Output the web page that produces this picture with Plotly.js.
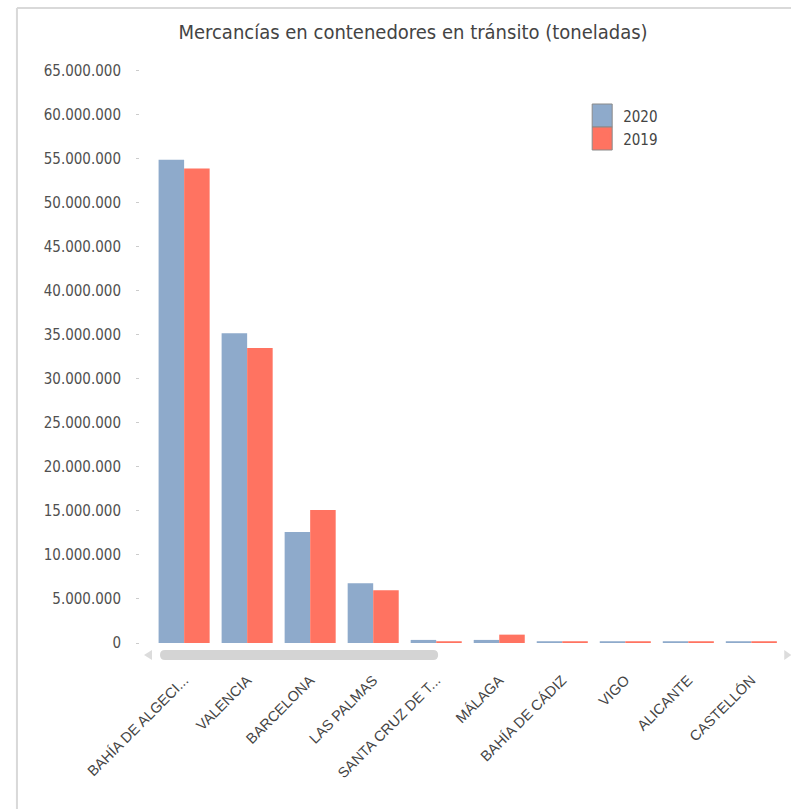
<!DOCTYPE html>
<html>
<head>
<meta charset="utf-8">
<script src="https://cdn.plot.ly/plotly-3.0.1.min.js"></script>
<style>html,body{margin:0;padding:0;background:#fff;}#chart{width:791px;height:809px;}</style>
</head>
<body>
<div id="chart"></div>
<script>
const categories = ["BAHÍA DE ALGECI...", "VALENCIA", "BARCELONA", "LAS PALMAS", "SANTA CRUZ DE T...", "MÁLAGA", "BAHÍA DE CÁDIZ", "VIGO", "ALICANTE", "CASTELLÓN"];
const values2020 = [54900000, 35200000, 12600000, 6800000, 350000, 350000, 200000, 200000, 200000, 200000];
const values2019 = [53900000, 33500000, 15100000, 6000000, 200000, 950000, 200000, 200000, 200000, 200000];
const seriesNames = ["2020", "2019"];
const seriesColors = ['#8eaacb', '#ff7361'];

const W = 791, H = 809;
const M = {l: 140, r: 5.25, t: 62, b: 166};
const pw = W - M.l - M.r, ph = H - M.t - M.b;
const px = x => (x - M.l) / pw;
const py = y => (H - M.b - y) / ph;

const traces = [
  {type: 'bar', name: seriesNames[0], x: categories, y: values2020,
   marker: {color: seriesColors[0], line: {width: 0}}},
  {type: 'bar', name: seriesNames[1], x: categories, y: values2019,
   marker: {color: seriesColors[1], line: {width: 0}}}
];

const frame = '#d9d9d9';
const shapes = [
  {type: 'line', xref: 'paper', yref: 'paper', x0: px(17), x1: px(791), y0: py(8), y1: py(8), line: {color: frame, width: 2}},
  {type: 'line', xref: 'paper', yref: 'paper', x0: px(17), x1: px(17), y0: py(8), y1: py(809), line: {color: frame, width: 2}},
  // scrollbar thumb
  {type: 'path', xref: 'paper', yref: 'paper', fillcolor: '#d4d4d4', line: {width: 0},
   path: `M ${px(165)} ${py(650)} L ${px(433)} ${py(650)} Q ${px(438)} ${py(650)} ${px(438)} ${py(655)} Q ${px(438)} ${py(660)} ${px(433)} ${py(660)} L ${px(165)} ${py(660)} Q ${px(160)} ${py(660)} ${px(160)} ${py(655)} Q ${px(160)} ${py(650)} ${px(165)} ${py(650)} Z`},
  // arrows
  {type: 'path', xref: 'paper', yref: 'paper', fillcolor: '#dcdcdc', line: {width: 0},
   path: `M ${px(144)} ${py(655)} L ${px(152)} ${py(650)} L ${px(152)} ${py(660)} Z`},
  {type: 'path', xref: 'paper', yref: 'paper', fillcolor: '#dcdcdc', line: {width: 0},
   path: `M ${px(791)} ${py(655)} L ${px(784)} ${py(650)} L ${px(784)} ${py(660)} Z`},
  // larger legend swatches (stacked boxes)
  {type: 'rect', xref: 'paper', yref: 'paper', layer: 'above', x0: px(592), x1: px(612), y0: py(104), y1: py(127),
   fillcolor: seriesColors[0], line: {color: '#8a8a8a', width: 1}},
  {type: 'rect', xref: 'paper', yref: 'paper', layer: 'above', x0: px(592), x1: px(612), y0: py(127), y1: py(150),
   fillcolor: seriesColors[1], line: {color: '#8a8a8a', width: 1}}
];

const layout = {
  width: W, height: H,
  margin: M,
  paper_bgcolor: '#fff', plot_bgcolor: '#fff',
  separators: ',.',
  title: {text: 'Mercancías en contenedores en tránsito (toneladas)',
          font: {family: 'DejaVu Sans Condensed, DejaVu Sans', size: 20, color: '#444'},
          x: 413 / W, xref: 'container', xanchor: 'center', y: 1 - 32 / H, yref: 'container', yanchor: 'middle'},
  bargap: 0.19, bargroupgap: 0,
  barmode: 'group',
  showlegend: true,
  legend: {x: px(583), y: py(100), xanchor: 'left', yanchor: 'top',
           font: {family: 'DejaVu Sans Condensed, DejaVu Sans', size: 15, color: '#444'},
           bgcolor: 'rgba(0,0,0,0)', tracegroupgap: 0, traceorder: 'normal'},
  xaxis: {type: 'category', range: [-0.7, 9.55], showgrid: false, zeroline: false, showline: false,
          ticks: '', tickangle: -45, ticklabelstandoff: 25,
          tickfont: {family: 'Liberation Sans, Arial', size: 14.5, color: '#444'}, fixedrange: true},
  yaxis: {range: [0, 66000000], dtick: 5000000, tick0: 0, tickformat: ',d', showgrid: false,
          zeroline: false, showline: false, ticks: 'outside', ticklen: 3, tickcolor: '#cccccc',
          ticklabelstandoff: 12,
          tickfont: {family: 'DejaVu Sans Condensed, DejaVu Sans', size: 15, color: '#505050'}},
  shapes: shapes
};

Plotly.newPlot('chart', traces, layout, {displayModeBar: false, staticPlot: true});
</script>
</body>
</html>
